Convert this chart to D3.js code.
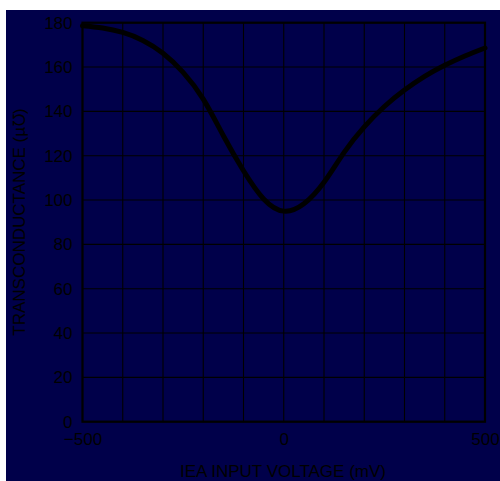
<!DOCTYPE html>
<html lang="en">
<head>
    <meta charset="UTF-8">
    <title>Transconductance vs IEA Input Voltage</title>
    <script src="https://d3js.org/d3.v7.min.js"></script>
    <style>
        body, html {
            margin: 0;
            padding: 0;
            overflow: hidden;
            background: #fff;
        }
        svg {
            display: block;
        }
        text {
            font-family: "Liberation Sans", Arial, sans-serif;
            font-size: 17px;
            fill: #000;
        }
    </style>
</head>
<body>
    <svg width="500" height="481" id="chart"></svg>

    <script>
        // IEA input voltage (mV) and transconductance (µ℧)
        const voltage = [-500, -450, -400, -350, -300, -250, -200, -150, -100, -50, 0,
                         50, 100, 150, 200, 250, 300, 350, 400, 450, 500];
        const gm = [178.6, 177.6, 175.6, 172, 166.2, 157.6, 145.5, 129, 113.2, 100.5, 95,
                    98.3, 108, 121.5, 133, 142.2, 149.6, 155.8, 160.8, 165, 168.6];

        const xTicks = [-500, 0, 500];
        const yTicks = [0, 20, 40, 60, 80, 100, 120, 140, 160, 180];
        const xGrid = d3.range(-500, 501, 100);

        const svg = d3.select("#chart");

        // navy panel
        svg.append("rect")
            .attr("x", 6).attr("y", 10)
            .attr("width", 494).attr("height", 471)
            .attr("fill", "#00004a");

        const margin = { left: 82.5, top: 22.7, right: 485, bottom: 421.7 };

        const x = d3.scaleLinear().domain([-500, 500]).range([margin.left, margin.right]);
        const y = d3.scaleLinear().domain([0, 180]).range([margin.bottom, margin.top]);

        // grid
        svg.append("g")
            .selectAll("line")
            .data(xGrid)
            .join("line")
            .attr("x1", d => x(d)).attr("x2", d => x(d))
            .attr("y1", margin.top).attr("y2", margin.bottom)
            .attr("stroke", "#000").attr("stroke-width", 1.1);

        svg.append("g")
            .selectAll("line")
            .data(yTicks)
            .join("line")
            .attr("x1", margin.left).attr("x2", margin.right)
            .attr("y1", d => y(d)).attr("y2", d => y(d))
            .attr("stroke", "#000").attr("stroke-width", 1.1);

        // frame
        svg.append("rect")
            .attr("x", margin.left).attr("y", margin.top)
            .attr("width", margin.right - margin.left)
            .attr("height", margin.bottom - margin.top)
            .attr("fill", "none")
            .attr("stroke", "#000")
            .attr("stroke-width", 2.2);

        // axes (labels only)
        const yAxis = svg.append("g")
            .attr("transform", `translate(${margin.left},0)`)
            .call(d3.axisLeft(y).tickValues(yTicks).tickSize(0).tickPadding(10));
        yAxis.select(".domain").remove();
        yAxis.selectAll("text")
            .attr("font-size", 17)
            .attr("font-family", "Liberation Sans, Arial, sans-serif")
            .attr("fill", "#000");

        const xAxis = svg.append("g")
            .attr("transform", `translate(0,${margin.bottom})`)
            .call(d3.axisBottom(x).tickValues(xTicks).tickSize(0).tickPadding(11));
        xAxis.select(".domain").remove();
        xAxis.selectAll("text")
            .attr("font-size", 17)
            .attr("font-family", "Liberation Sans, Arial, sans-serif")
            .attr("fill", "#000");

        // curve
        const line = d3.line()
            .x((d, i) => x(voltage[i]))
            .y(d => y(d))
            .curve(d3.curveNatural);

        svg.append("path")
            .datum(gm)
            .attr("d", line)
            .attr("fill", "none")
            .attr("stroke", "#000")
            .attr("stroke-width", 5)
            .attr("stroke-linecap", "round");

        // axis titles
        svg.append("text")
            .attr("x", 283)
            .attr("y", 477)
            .attr("text-anchor", "middle")
            .text("IEA INPUT VOLTAGE (mV)");

        svg.append("text")
            .attr("transform", "translate(25,222) rotate(-90)")
            .attr("text-anchor", "middle")
            .text("TRANSCONDUCTANCE  (µ\u2127)");
    </script>
</body>
</html>
